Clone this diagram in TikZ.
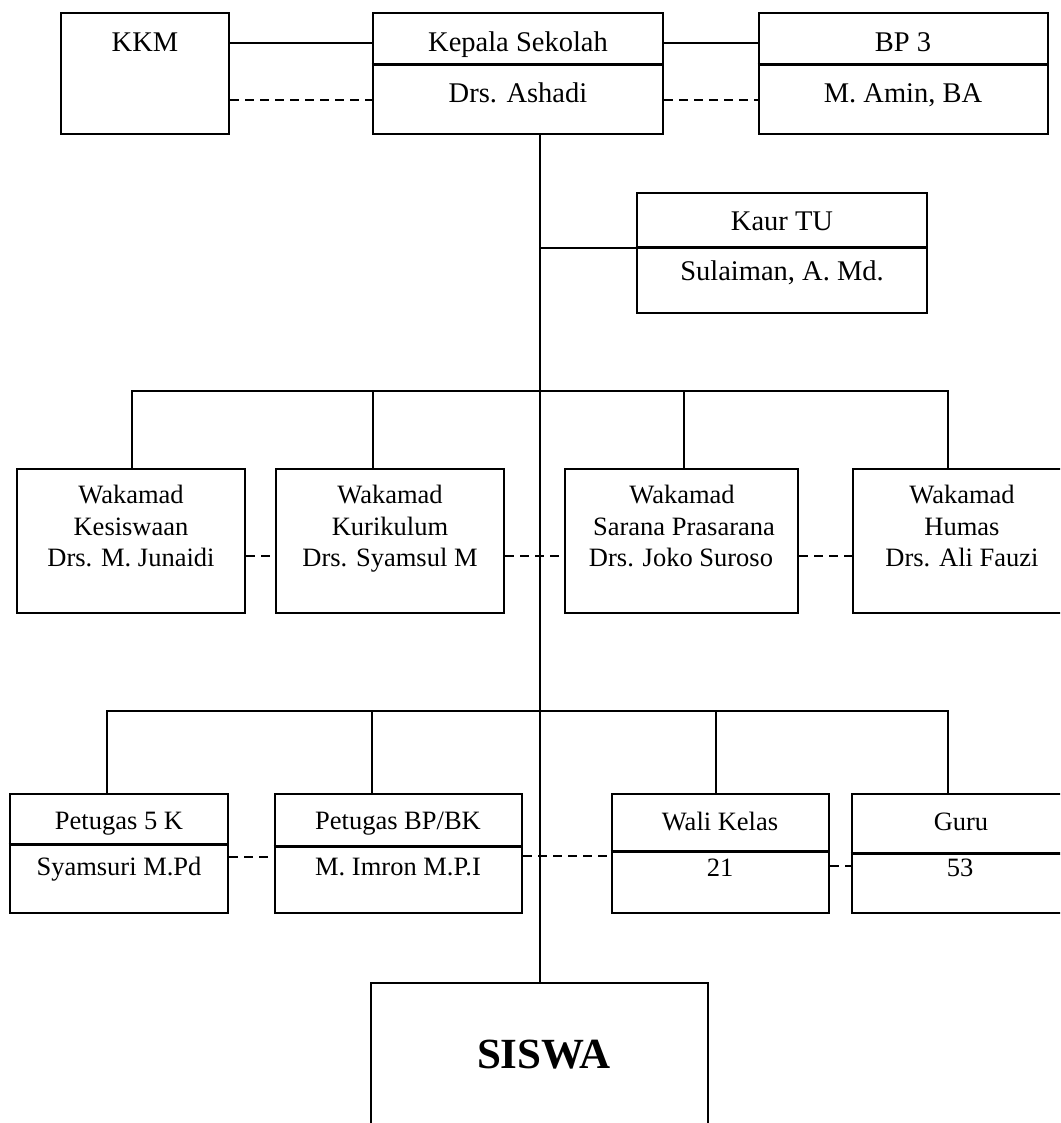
\documentclass[tikz,border=0pt]{standalone}
\usepackage{fontspec}
\setmainfont{Liberation Serif}
\begin{document}
\begin{tikzpicture}[x=0.5pt,y=-0.5pt,
  box/.style={draw, rectangle, line width=1.3pt, inner sep=0pt},
  conn/.style={line width=1pt},
  dconn/.style={line width=1pt, dash pattern=on 4.5pt off 3pt},
  divider/.style={line width=1.7pt},
  bigtxt/.style={anchor=base, inner sep=0pt, font=\fontsize{14.25}{17}\selectfont},
  txt/.style={anchor=base, inner sep=0pt, font=\fontsize{13.25}{15.75}\selectfont},
  siswatxt/.style={anchor=base, inner sep=0pt, font=\fontsize{21.5}{25}\selectfont\bfseries}]
\clip (0,0) rectangle (1060,1123);
\fill[white] (0,0) rectangle (1060,1123);

% top row
\node[box, minimum width=84pt, minimum height=60.5pt] (kkm) at (145,73.5) {};
\node[box, minimum width=145pt, minimum height=60.5pt] (kepala) at (518,73.5) {};
\node[box, minimum width=144.5pt, minimum height=60.5pt] (bp3) at (903.5,73.5) {};
\draw[divider] ([yshift=-26.5pt]kepala.north west) -- ([yshift=-26.5pt]kepala.north east);
\draw[divider] ([yshift=-26.5pt]bp3.north west) -- ([yshift=-26.5pt]bp3.north east);
\node[bigtxt] (tkkm) at (145,52) {KKM};
\node[bigtxt] (tkep1) at (518,52) {Kepala Sekolah};
\node[bigtxt] (tkep2) at (518,103) {Drs. Ashadi};
\node[bigtxt] (tbp1) at (903,52) {BP 3};
\node[bigtxt] (tbp2) at (903,103) {M. Amin, BA};

% kaur TU
\node[box, minimum width=145pt, minimum height=60pt] (kaur) at (782,253) {};
\draw[divider] ([yshift=-28pt]kaur.north west) -- ([yshift=-28pt]kaur.north east);
\node[bigtxt] (tkaur1) at (782,230) {Kaur TU};
\node[bigtxt] (tkaur2) at (782,280) {Sulaiman, A. Md.};

% wakamad row
\node[box, minimum width=114pt, minimum height=72pt] (w1) at (131,541) {};
\node[box, minimum width=114pt, minimum height=72pt] (w2) at (390,541) {};
\node[box, minimum width=116.5pt, minimum height=72pt] (w3) at (681.5,541) {};
\node[box, minimum width=109pt, minimum height=72pt] (w4) at (962,541) {};
\node[txt] (tw1a) at (131,503) {Wakamad};
\node[txt] (tw1b) at (131,535) {Kesiswaan};
\node[txt] (tw1c) at (131,566) {Drs. M. Junaidi};
\node[txt] (tw2a) at (390,503) {Wakamad};
\node[txt] (tw2b) at (390,535) {Kurikulum};
\node[txt] (tw2c) at (390,566) {Drs. Syamsul M};
\node[txt] (tw3a) at (682,503) {Wakamad};
\node[txt] (tw3b) at (684,535) {Sarana Prasarana};
\node[txt] (tw3c) at (681,566) {Drs. Joko Suroso};
\node[txt] (tw4a) at (962,503) {Wakamad};
\node[txt] (tw4b) at (962,535) {Humas};
\node[txt] (tw4c) at (962,566) {Drs. Ali Fauzi};

% bottom row
\node[box, minimum width=109pt, minimum height=59.5pt] (p1) at (119,853.5) {};
\node[box, minimum width=123.5pt, minimum height=59.5pt] (p2) at (398.5,853.5) {};
\node[box, minimum width=108.5pt, minimum height=59.5pt] (p3) at (720.5,853.5) {};
\node[box, minimum width=108pt, minimum height=59.5pt] (p4) at (960,853.5) {};
\draw[divider] ([yshift=-26pt]p1.north west) -- ([yshift=-26pt]p1.north east);
\draw[divider] ([yshift=-27pt]p2.north west) -- ([yshift=-27pt]p2.north east);
\draw[divider] ([yshift=-29.5pt]p3.north west) -- ([yshift=-29.5pt]p3.north east);
\draw[divider] ([yshift=-30.5pt]p4.north west) -- ([yshift=-30.5pt]p4.north east);
\node[txt] (tp1a) at (119,829) {Petugas 5 K};
\node[txt] (tp1b) at (119,875) {Syamsuri M.Pd};
\node[txt] (tp2a) at (398,829) {Petugas BP/BK};
\node[txt] (tp2b) at (398,875) {M. Imron M.P.I};
\node[txt] (tp3a) at (720,830) {Wali Kelas};
\node[txt] (tp3b) at (720,876) {21};
\node[txt] (tp4a) at (961,830) {Guru};
\node[txt] (tp4b) at (960,876) {53};

% siswa
\node[box, minimum width=168.5pt, minimum height=78.5pt] (siswa) at (539.5,1061.5) {};
\node[siswatxt] (tsiswa) at (544,1068) {SISWA};

% connectors top
\draw[conn] ([yshift=-15.5pt]kkm.north east) -- ([yshift=-15.5pt]kepala.north west);
\draw[conn] ([yshift=-15.5pt]kepala.north east) -- ([yshift=-15.5pt]bp3.north west);
\draw[dconn] ([yshift=17.5pt]kkm.south east) -- ([yshift=17.5pt]kepala.south west);
\draw[dconn] ([yshift=17.5pt]kepala.south east) -- ([yshift=17.5pt]bp3.south west);

% trunk
\draw[conn] (kepala.south -| siswa.north) -- (siswa.north);

% kaur connector
\coordinate (kj) at ([yshift=2.5pt]kaur.west);
\draw[conn] (kj) -- (kj -| siswa.north);

% upper bus
\coordinate (b1) at (540,391);
\draw[conn] ([xshift=0.5pt]w1.north) |- (b1) -| ([xshift=-7pt]w4.north);
\draw[conn] ([xshift=-8.5pt]w2.north) -- ([xshift=-8.5pt]w2.north |- b1);
\draw[conn] ([xshift=1.25pt]w3.north) -- ([xshift=1.25pt]w3.north |- b1);

% wakamad dashed
\draw[dconn] ([yshift=-7.5pt]w1.east) -- ([yshift=-7.5pt]w2.west);
\draw[dconn] ([yshift=-7.5pt]w2.east) -- ([yshift=-7.5pt]w3.west);
\draw[dconn] ([yshift=-7.5pt]w3.east) -- ([yshift=-7.5pt]w4.west);

% lower bus
\coordinate (b2) at (540,711);
\draw[conn] ([xshift=-6pt]p1.north) |- (b2) -| ([xshift=-6pt]p4.north);
\draw[conn] ([xshift=-13.25pt]p2.north) -- ([xshift=-13.25pt]p2.north |- b2);
\draw[conn] ([xshift=-2.25pt]p3.north) -- ([xshift=-2.25pt]p3.north |- b2);

% bottom dashed
\draw[dconn] ([yshift=-1.75pt]p1.east) -- ([yshift=-1.75pt]p2.west);
\draw[dconn] ([yshift=-1.25pt]p2.east) -- ([yshift=-1.25pt]p3.west);
\draw[dconn] ([yshift=-6.25pt]p3.east) -- ([yshift=-6.25pt]p4.west);
\end{tikzpicture}
\end{document}
